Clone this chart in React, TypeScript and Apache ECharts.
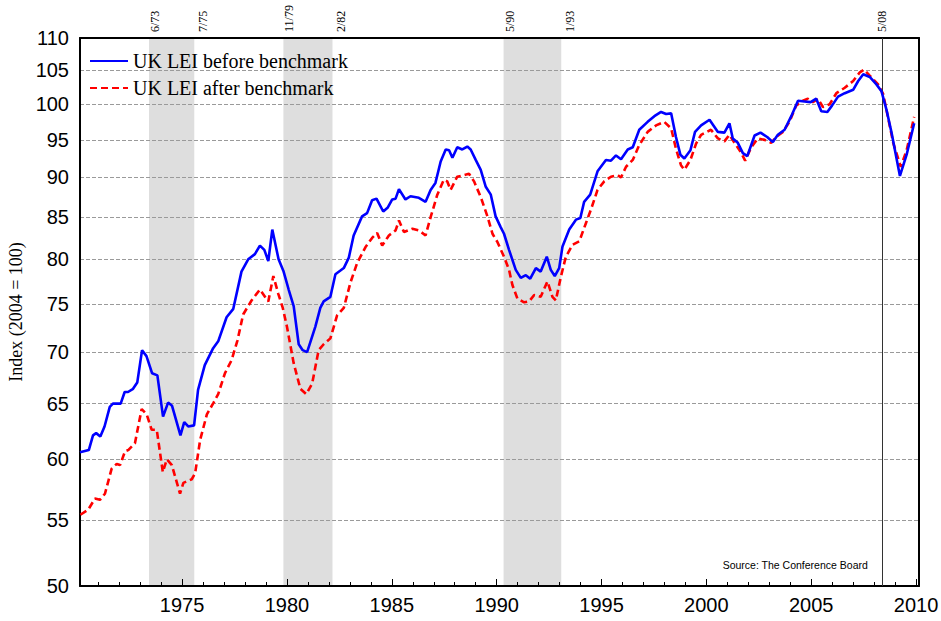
import React, { useEffect, useRef } from 'react';
import * as echarts from 'echarts';

const yTicks = [50, 55, 60, 65, 70, 75, 80, 85, 90, 95, 100, 105, 110];
const xMajorTicks = [1975, 1980, 1985, 1990, 1995, 2000, 2005, 2010];
const xMinorTicks = [1971, 1972, 1973, 1974, 1975, 1976, 1977, 1978, 1979, 1980, 1981, 1982, 1983, 1984, 1985, 1986, 1987, 1988, 1989, 1990, 1991, 1992, 1993, 1994, 1995, 1996, 1997, 1998, 1999, 2000, 2001, 2002, 2003, 2004, 2005, 2006, 2007, 2008, 2009, 2010];

// recessions: [start, end] in decimal years with labels
const recessionStarts = [1973.42, 1979.83, 1990.33];
const recessionEnds = [1975.58, 1982.17, 1993.08];
const recessionStartLabels = ['6/73', '11/79', '5/90'];
const recessionEndLabels = ['7/75', '2/82', '1/93'];
const markerDate = 2008.37;
const markerLabel = '5/08';

const seriesNames = ['UK LEI before benchmark', 'UK LEI after benchmark'];

const leiBefore: [number, number][] = [
  [1970.13, 60.6], [1970.55, 60.8], [1970.75, 62.1], [1970.9, 62.3], [1971.1, 62.0], [1971.3, 62.9],
  [1971.55, 64.7], [1971.7, 65.0], [1972.07, 65.0], [1972.26, 66.1], [1972.42, 66.1], [1972.66, 66.4],
  [1972.86, 67.0], [1973.09, 70.2], [1973.3, 69.6], [1973.57, 67.9], [1973.82, 67.7], [1974.09, 63.8],
  [1974.33, 65.1], [1974.52, 64.8], [1974.92, 62.1], [1975.1, 63.3], [1975.29, 62.9], [1975.57, 63.0],
  [1975.76, 66.3], [1976.08, 68.7], [1976.48, 70.4], [1976.72, 71.1], [1977.12, 73.6], [1977.44, 74.5],
  [1977.83, 78.6], [1978.15, 80.0], [1978.47, 80.6], [1978.71, 81.6], [1978.92, 81.1], [1979.11, 79.8],
  [1979.3, 83.5], [1979.6, 80.0], [1979.84, 78.6], [1980.08, 76.6], [1980.32, 74.8], [1980.56, 70.8],
  [1980.75, 70.2], [1980.96, 70.0], [1981.35, 72.6], [1981.59, 74.6], [1981.75, 75.3], [1982.07, 75.8],
  [1982.31, 78.3], [1982.71, 79.0], [1982.95, 80.2], [1983.18, 82.8], [1983.58, 85.1], [1983.82, 85.5],
  [1984.06, 87.1], [1984.27, 87.3], [1984.59, 85.7], [1984.81, 86.2], [1985.02, 87.2], [1985.18, 87.3],
  [1985.34, 88.5], [1985.65, 87.2], [1985.89, 87.6], [1986.29, 87.4], [1986.61, 86.9], [1986.85, 88.4],
  [1987.08, 89.3], [1987.33, 92.1], [1987.57, 93.7], [1987.73, 93.6], [1987.89, 92.6], [1988.12, 94.0],
  [1988.36, 93.7], [1988.6, 94.1], [1988.76, 93.7], [1989.0, 92.3], [1989.24, 91.0], [1989.48, 88.8],
  [1989.72, 87.8], [1989.95, 85.1], [1990.19, 83.8], [1990.35, 83.0], [1990.59, 81.1], [1990.91, 78.8],
  [1991.15, 77.9], [1991.39, 78.2], [1991.6, 77.8], [1991.87, 79.0], [1992.1, 78.6], [1992.39, 80.3],
  [1992.58, 78.8], [1992.77, 78.1], [1992.98, 79.0], [1993.14, 81.5], [1993.46, 83.5], [1993.78, 84.7],
  [1993.99, 84.9], [1994.17, 86.9], [1994.46, 87.8], [1994.81, 90.8], [1995.21, 92.3], [1995.45, 92.2],
  [1995.69, 92.9], [1995.93, 92.4], [1996.25, 93.7], [1996.49, 94.0], [1996.8, 96.4], [1997.2, 97.5],
  [1997.52, 98.3], [1997.84, 98.9], [1998.08, 98.6], [1998.32, 98.7], [1998.55, 95.4], [1998.76, 93.0],
  [1998.95, 92.5], [1999.24, 93.6], [1999.46, 96.1], [1999.75, 97.0], [2000.15, 97.8], [2000.55, 96.1],
  [2000.86, 96.0], [2001.1, 97.3], [2001.26, 95.2], [2001.5, 94.6], [2001.74, 93.2], [2001.95, 92.8],
  [2002.3, 95.6], [2002.58, 96.0], [2002.9, 95.4], [2003.17, 94.7], [2003.41, 95.7], [2003.73, 96.4],
  [2004.05, 98.3], [2004.37, 100.5], [2004.68, 100.4], [2004.97, 100.3], [2005.24, 100.8], [2005.48, 99.0],
  [2005.77, 98.9], [2005.99, 99.8], [2006.28, 101.1], [2006.6, 101.6], [2007.0, 102.1], [2007.24, 103.4],
  [2007.48, 104.4], [2007.79, 104.0], [2008.11, 102.9], [2008.35, 101.9], [2008.59, 99.2], [2008.83, 96.0],
  [2009.23, 90.2], [2009.55, 93.0], [2009.91, 97.3],
];

const leiAfter: [number, number][] = [
  [1970.15, 55.4], [1970.52, 55.8], [1970.84, 56.7], [1971.08, 56.6], [1971.32, 57.1], [1971.64, 59.2],
  [1971.88, 59.6], [1972.04, 59.5], [1972.28, 60.7], [1972.43, 60.8], [1972.75, 61.4], [1973.07, 64.5],
  [1973.31, 64.0], [1973.55, 62.6], [1973.79, 62.6], [1974.08, 58.9], [1974.27, 60.0], [1974.51, 59.5],
  [1974.9, 57.1], [1975.06, 58.0], [1975.46, 58.3], [1975.62, 58.8], [1975.86, 61.7], [1976.18, 64.0],
  [1976.5, 65.1], [1976.72, 65.9], [1977.04, 67.9], [1977.36, 69.2], [1977.64, 71.2], [1977.91, 73.9],
  [1978.31, 75.4], [1978.71, 76.6], [1978.95, 75.8], [1979.11, 75.3], [1979.35, 78.1], [1979.59, 76.1],
  [1979.8, 74.6], [1980.0, 72.6], [1980.32, 68.9], [1980.64, 66.4], [1980.92, 65.9], [1981.2, 66.9],
  [1981.51, 70.2], [1981.75, 70.8], [1982.07, 71.4], [1982.39, 73.8], [1982.71, 74.6], [1983.03, 77.4],
  [1983.35, 79.6], [1983.74, 81.4], [1984.06, 82.5], [1984.3, 83.1], [1984.54, 81.6], [1984.86, 82.8],
  [1985.18, 83.4], [1985.34, 84.6], [1985.58, 83.2], [1985.98, 83.6], [1986.29, 83.4], [1986.61, 82.8],
  [1986.85, 85.0], [1987.17, 87.8], [1987.48, 89.7], [1987.64, 89.5], [1987.8, 88.4], [1988.12, 90.1],
  [1988.44, 90.3], [1988.68, 90.5], [1988.92, 89.5], [1989.24, 87.5], [1989.56, 85.1], [1989.8, 83.0],
  [1990.04, 82.0], [1990.35, 80.3], [1990.59, 78.8], [1990.75, 77.1], [1990.99, 75.6], [1991.31, 75.2],
  [1991.55, 75.3], [1991.79, 76.0], [1992.1, 75.8], [1992.42, 77.5], [1992.66, 75.8], [1992.82, 75.4],
  [1993.06, 78.0], [1993.3, 80.3], [1993.62, 81.7], [1993.94, 82.1], [1994.26, 84.3], [1994.49, 85.9],
  [1994.81, 88.4], [1995.13, 89.5], [1995.45, 90.1], [1995.77, 90.3], [1995.93, 90.0], [1996.17, 91.4],
  [1996.49, 92.3], [1996.8, 94.3], [1997.2, 96.1], [1997.6, 97.0], [1997.99, 97.5], [1998.32, 96.6],
  [1998.55, 93.8], [1998.79, 91.6], [1998.95, 91.0], [1999.24, 92.3], [1999.51, 94.5], [1999.75, 95.7],
  [2000.22, 96.4], [2000.55, 95.2], [2000.86, 94.8], [2001.1, 95.7], [2001.34, 94.6], [2001.63, 93.4],
  [2001.85, 92.2], [2002.14, 94.0], [2002.46, 95.2], [2002.78, 95.0], [2003.09, 94.6], [2003.33, 95.4],
  [2003.65, 96.1], [2003.96, 97.5], [2004.28, 99.8], [2004.6, 100.5], [2004.84, 100.8], [2005.08, 100.3],
  [2005.32, 100.8], [2005.56, 99.6], [2005.88, 100.0], [2006.2, 101.6], [2006.6, 102.4], [2007.0, 103.4],
  [2007.32, 104.7], [2007.52, 105.1], [2007.79, 104.2], [2008.19, 102.9], [2008.43, 101.5], [2008.67, 98.0],
  [2008.91, 94.6], [2009.27, 91.4], [2009.55, 93.6], [2009.91, 98.2],
];

const X_MIN = 1970.13;
const X_MAX = 2010.14;
const SANS = '"Liberation Sans", Arial, sans-serif';
const SERIF = '"Liberation Serif", "Times New Roman", serif';

export default function App() {
  const ref = useRef<HTMLDivElement>(null);

  useEffect(() => {
    document.body.style.margin = '0';
    const chart = echarts.init(ref.current as HTMLDivElement, null, { renderer: 'svg' });

    const bandData = recessionStarts.map((s, i) => [{ xAxis: s }, { xAxis: recessionEnds[i] }]);

    const option: any = {
      animation: false,
      backgroundColor: '#ffffff',
      grid: { left: 80, right: 22, top: 38, bottom: 35, containLabel: false, outerBoundsMode: 'none' },
      legend: {
        data: seriesNames,
        orient: 'vertical',
        left: 89,
        top: 51,
        padding: 0,
        itemWidth: 38,
        itemHeight: 14,
        itemGap: 7,
        itemStyle: { opacity: 0 },
        textStyle: { fontFamily: SERIF, fontSize: 20, color: '#000' },
      },
      xAxis: [
        {
          type: 'value', min: X_MIN, max: X_MAX, position: 'bottom', z: 3,
          axisLine: { show: true, onZero: false, lineStyle: { color: '#000', width: 2 } },
          axisTick: { show: true, inside: true, length: 4, customValues: xMinorTicks, lineStyle: { color: '#000', width: 1 } },
          axisLabel: { customValues: xMajorTicks, fontSize: 20, fontFamily: SANS, color: '#000', margin: 9, formatter: (v: number) => String(Math.round(v)) },
          splitLine: { show: false },
        },
        {
          type: 'value', min: X_MIN, max: X_MAX, position: 'bottom', z: 3,
          axisLine: { show: false, onZero: false },
          axisTick: { show: true, inside: true, length: 7, customValues: xMajorTicks, lineStyle: { color: '#000', width: 1 } },
          axisLabel: { show: false },
          splitLine: { show: false },
        },
        {
          type: 'value', min: X_MIN, max: X_MAX, position: 'top', z: 3,
          axisLine: { show: true, onZero: false, lineStyle: { color: '#000', width: 2 } },
          axisTick: { show: false },
          axisLabel: { show: false },
          splitLine: { show: false },
        },
      ],
      yAxis: [
        {
          type: 'log', logBase: 10, min: 50, max: 110, z: 3,
          name: 'Index (2004 = 100)',
          nameLocation: 'middle',
          nameGap: 55,
          nameRotate: 90,
          nameTextStyle: { fontFamily: SERIF, fontSize: 18, color: '#000' },
          axisLine: { show: true, onZero: false, lineStyle: { color: '#000', width: 2 } },
          axisTick: { show: false, customValues: yTicks },
          axisLabel: { customValues: yTicks, fontSize: 20, fontFamily: SANS, color: '#000', margin: 11, formatter: (v: number) => String(Math.round(v)) },
          splitLine: { show: true, lineStyle: { color: '#9a9a9a', width: 1, type: [4, 2] } },
        },
        {
          type: 'log', logBase: 10, min: 50, max: 110, position: 'right', z: 3,
          axisLine: { show: true, onZero: false, lineStyle: { color: '#000', width: 2 } },
          axisTick: { show: false },
          axisLabel: { show: false },
          splitLine: { show: false },
        },
      ],
      series: [
        {
          name: seriesNames[0],
          type: 'line',
          xAxisIndex: 0,
          yAxisIndex: 0,
          data: leiBefore,
          symbol: 'none',
          smooth: false,
          z: 5,
          lineStyle: { color: '#0000ff', width: 2.6 },
          itemStyle: { color: '#0000ff' },
          markArea: {
            silent: true,
            z: 1,
            label: { show: false },
            itemStyle: { color: '#dedede' },
            data: bandData,
          },
          markLine: {
            silent: true,
            symbol: ['none', 'none'],
            label: { show: false },
            lineStyle: { color: '#333', width: 1, type: 'solid' },
            data: [{ xAxis: markerDate }],
          },
        },
        {
          name: seriesNames[1],
          type: 'line',
          xAxisIndex: 0,
          yAxisIndex: 0,
          data: leiAfter,
          symbol: 'none',
          z: 4,
          lineStyle: { color: '#ff0000', width: 2.6, type: [7, 4] },
          itemStyle: { color: '#ff0000' },
        },
      ],
    };

    chart.setOption(option);

    const toX = (year: number) => chart.convertToPixel({ xAxisIndex: 0 }, year) as number;
    const labelText = (text: string, x: number) => ({
      type: 'text',
      x,
      y: 32,
      rotation: Math.PI / 2,
      style: { text, fontFamily: SERIF, fontSize: 12, fill: '#000', align: 'left', verticalAlign: 'middle' },
    });
    const graphics: any[] = [];
    recessionStarts.forEach((s, i) => {
      graphics.push(labelText(recessionStartLabels[i], toX(s) + 6));
      graphics.push(labelText(recessionEndLabels[i], toX(recessionEnds[i]) + 9));
    });
    graphics.push(labelText(markerLabel, toX(markerDate)));
    graphics.push({
      type: 'text',
      right: 73,
      top: 559,
      style: { text: 'Source: The Conference Board', fontFamily: SANS, fontSize: 10.5, fill: '#000' },
    });
    chart.setOption({ graphic: graphics });

    return () => chart.dispose();
  }, []);

  return <div ref={ref} style={{ position: 'absolute', left: 0, top: 0, width: 941, height: 621 }} />;
}
